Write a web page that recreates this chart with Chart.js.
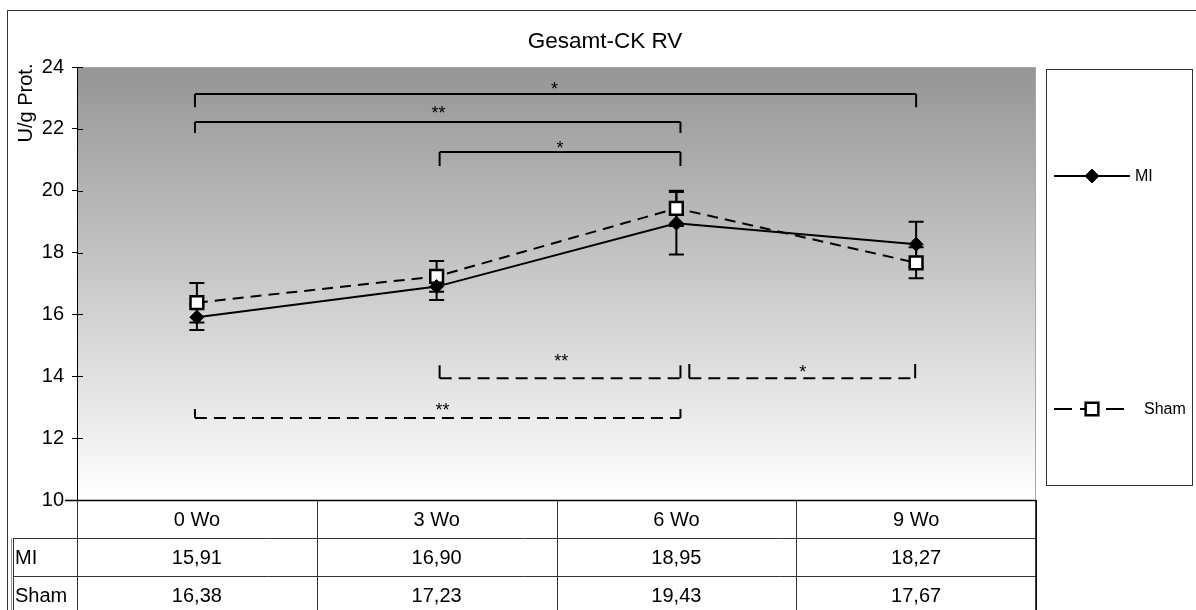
<!DOCTYPE html>
<html><head><meta charset="utf-8">
<script src="https://cdn.jsdelivr.net/npm/chart.js@4.4.1/dist/chart.umd.min.js"></script>
<style>html,body{margin:0;padding:0;background:#fff;overflow:hidden}#wrap{position:relative;width:1196px;height:610px}canvas{display:block}</style>
</head><body><div id="wrap"><canvas id="c" width="1196" height="610"></canvas></div>
<script>
// ---- data ----
const chartTitle = 'Gesamt-CK RV';
const yAxisTitle = 'U/g Prot.';
const categories = ['0 Wo', '3 Wo', '6 Wo', '9 Wo'];
const miValues = [15.91, 16.90, 18.95, 18.27];
const shamValues = [16.38, 17.23, 19.43, 17.67];
const miErrors = [0.41, 0.43, 1.01, 0.73];
const shamErrors = [0.64, 0.50, 0.57, 0.50];
const yTicks = [10, 12, 14, 16, 18, 20, 22, 24];
// significance brackets in category / value units
const sigBrackets = [
  {from: -0.008, to: 3.0,   level: 23.13, tickEnd: 22.70, label: '*',  labelX: 1.492, labelY: 23.42, dashed: false},
  {from: -0.008, to: 2.017, level: 22.22, tickEnd: 21.87, label: '**', labelX: 1.008, labelY: 22.63, dashed: false},
  {from: 1.0125, to: 2.017, level: 21.25, tickEnd: 20.80, label: '*',  labelX: 1.515, labelY: 21.51, dashed: false},
  {from: 1.0125, to: 2.017, level: 13.94, tickEnd: 14.36, label: '**', labelX: 1.520, labelY: 14.62, dashed: true},
  {from: 2.054,  to: 2.996, level: 13.94, tickEnd: 14.40, label: '*',  labelX: 2.527, labelY: 14.26, dashed: true},
  {from: -0.008, to: 2.017, level: 12.65, tickEnd: 12.94, label: '**', labelX: 1.025, labelY: 13.04, dashed: true}
];

const FONT = "'Liberation Sans', Arial, sans-serif";
const fmt = v => v.toFixed(2).replace('.', ',');

const backgroundPlugin = {
  id: 'bg',
  beforeDraw(chart) {
    const {ctx, chartArea: a} = chart;
    ctx.save();
    ctx.fillStyle = '#fff';
    ctx.fillRect(0, 0, chart.width, chart.height);
    // outer border
    ctx.strokeStyle = '#333';
    ctx.lineWidth = 1;
    ctx.strokeRect(7.5, 10.5, 1200, 700);
    // plot gradient
    const g = ctx.createLinearGradient(0, a.top, 0, a.bottom);
    g.addColorStop(0, '#959595');
    g.addColorStop(1, '#ffffff');
    ctx.fillStyle = g;
    ctx.fillRect(a.left, a.top, a.right - a.left, a.bottom - a.top);
    ctx.strokeStyle = '#a8a8a8';
    ctx.strokeRect(a.left + 0.5, a.top + 0.5, a.right - a.left - 1, a.bottom - a.top);
    ctx.restore();
  }
};

const annotationPlugin = {
  id: 'annot',
  beforeDatasetsDraw(chart) {
    const {ctx, scales: {x, y}} = chart;
    ctx.save();
    ctx.strokeStyle = '#000';
    ctx.fillStyle = '#000';
    ctx.lineWidth = 2;
    // brackets
    sigBrackets.forEach(b => {
      const x1 = x.getPixelForValue(b.from), x2 = x.getPixelForValue(b.to);
      const yl = y.getPixelForValue(b.level), yt = y.getPixelForValue(b.tickEnd);
      ctx.setLineDash([]);
      ctx.beginPath();
      ctx.moveTo(x1, yt); ctx.lineTo(x1, yl);
      ctx.moveTo(x2, yt); ctx.lineTo(x2, yl);
      ctx.stroke();
      ctx.setLineDash(b.dashed ? [12, 7] : []);
      ctx.beginPath();
      ctx.moveTo(x1, yl); ctx.lineTo(x2, yl);
      ctx.stroke();
      ctx.setLineDash([]);
      ctx.font = '18px ' + FONT;
      ctx.textAlign = 'center';
      ctx.textBaseline = 'alphabetic';
      ctx.fillText(b.label, x.getPixelForValue(b.labelX), y.getPixelForValue(b.labelY) + 10);
    });
    // error bars
    chart.data.datasets.forEach(ds => {
      ds.errors.forEach((e, i) => {
        const px = x.getPixelForValue(i);
        const t = y.getPixelForValue(ds.data[i] + e), bt = y.getPixelForValue(ds.data[i] - e);
        ctx.beginPath();
        ctx.moveTo(px, t); ctx.lineTo(px, bt);
        ctx.moveTo(px - 7.5, t); ctx.lineTo(px + 7.5, t);
        ctx.moveTo(px - 7.5, bt); ctx.lineTo(px + 7.5, bt);
        ctx.stroke();
      });
    });
    ctx.restore();
  },
  afterDraw(chart) {
    const {ctx, chartArea: a, scales: {x, y}} = chart;
    ctx.save();
    // inner tick marks
    ctx.strokeStyle = '#000';
    ctx.lineWidth = 1;
    y.ticks.forEach(t => {
      const py = Math.round(y.getPixelForValue(t.value)) + 0.5;
      ctx.beginPath(); ctx.moveTo(a.left, py); ctx.lineTo(a.left + 6, py); ctx.stroke();
    });
    // title
    ctx.fillStyle = '#000';
    ctx.font = '22.5px ' + FONT;
    ctx.textAlign = 'center';
    ctx.textBaseline = 'middle';
    ctx.fillText(chartTitle, 605, 42);
    // y axis title
    ctx.save();
    ctx.translate(25, 103);
    ctx.rotate(-Math.PI / 2);
    ctx.font = '20px ' + FONT;
    ctx.fillText(yAxisTitle, 0, 1);
    ctx.restore();

    // data table
    const colW = (a.right - a.left) / categories.length;
    const rowH = 38;
    const top = a.bottom;
    const labelLeft = 13;
    ctx.strokeStyle = '#333';
    ctx.lineWidth = 1;
    ctx.beginPath();
    for (let r = 1; r <= 3; r++) {
      const yy = top + r * rowH + 0.5;
      ctx.moveTo(labelLeft, yy); ctx.lineTo(a.right, yy);
    }
    for (let i = 0; i <= categories.length; i++) {
      const xx = Math.round(a.left + i * colW) + 0.5;
      ctx.moveTo(xx, top); ctx.lineTo(xx, top + 4 * rowH);
    }
    ctx.moveTo(labelLeft + 0.5, top + rowH); ctx.lineTo(labelLeft + 0.5, top + 4 * rowH);
    ctx.stroke();
    ctx.strokeStyle = '#999';
    ctx.beginPath();
    ctx.moveTo(labelLeft - 1.5, top + rowH); ctx.lineTo(labelLeft - 1.5, top + 4 * rowH);
    ctx.stroke();
    ctx.strokeStyle = '#000';
    ctx.lineWidth = 1.5;
    ctx.beginPath();
    ctx.moveTo(a.left - 12, top + 0.5); ctx.lineTo(a.right, top + 0.5);
    ctx.moveTo(a.right, top); ctx.lineTo(a.right, top + 4 * rowH);
    ctx.stroke();

    ctx.font = '20px ' + FONT;
    ctx.fillStyle = '#000';
    ctx.textBaseline = 'middle';
    ctx.textAlign = 'center';
    categories.forEach((c, i) => {
      ctx.fillText(c, x.getPixelForValue(i), top + rowH / 2 + 1);
    });
    chart.data.datasets.forEach((ds, r) => {
      const cy = top + (r + 1) * rowH + rowH / 2 + 1;
      ctx.textAlign = 'left';
      ctx.fillText(ds.label, labelLeft + 2, cy);
      ctx.textAlign = 'center';
      ds.data.forEach((v, i) => ctx.fillText(fmt(v), x.getPixelForValue(i), cy));
    });

    // legend
    ctx.fillStyle = '#fff';
    ctx.fillRect(1047, 70, 145, 415);
    ctx.strokeStyle = '#333';
    ctx.lineWidth = 1;
    ctx.strokeRect(1046.5, 69.5, 146, 416);
    const legendY = [176, 409];
    const textX = [1135, 1144];
    chart.data.datasets.forEach((ds, i) => {
      const ly = legendY[i];
      ctx.strokeStyle = ds.borderColor;
      ctx.lineWidth = ds.borderWidth;
      ctx.setLineDash(ds.borderDash ? [18, 8] : []);
      ctx.beginPath(); ctx.moveTo(1054, ly); ctx.lineTo(ds.borderDash ? 1128 : 1130, ly); ctx.stroke();
      ctx.setLineDash([]);
      ctx.fillStyle = ds.pointBackgroundColor;
      ctx.strokeStyle = ds.pointBorderColor;
      ctx.lineWidth = ds.pointBorderWidth;
      Chart.helpers.drawPoint(ctx, {pointStyle: ds.pointStyle, radius: ds.pointRadius, borderWidth: ds.pointBorderWidth, rotation: 0}, 1092, ly);
      ctx.fillStyle = '#000';
      ctx.font = '16px ' + FONT;
      ctx.textAlign = 'left';
      ctx.textBaseline = 'middle';
      ctx.fillText(ds.label, textX[i], ly + 1);
    });
    ctx.restore();
  }
};

new Chart(document.getElementById('c'), {
  type: 'line',
  data: {
    labels: categories,
    datasets: [
      {label: 'MI', data: miValues, errors: miErrors, borderColor: '#000', borderWidth: 2,
       pointStyle: 'rectRot', pointRadius: 7, pointHoverRadius: 7, pointBackgroundColor: '#000',
       pointBorderColor: '#000', pointBorderWidth: 1, tension: 0, fill: false},
      {label: 'Sham', data: shamValues, errors: shamErrors, borderColor: '#000', borderWidth: 2,
       borderDash: [11, 7], pointStyle: 'rect', pointRadius: 9, pointHoverRadius: 9,
       pointBackgroundColor: '#fff', pointBorderColor: '#000', pointBorderWidth: 2.5, tension: 0, fill: false}
    ]
  },
  options: {
    responsive: false,
    animation: false,
    devicePixelRatio: 1,
    layout: {padding: {left: 0, top: 67, right: 160, bottom: 110}},
    plugins: {legend: {display: false}, title: {display: false}, tooltip: {enabled: false}},
    scales: {
      x: {type: 'category', offset: true, display: false},
      y: {
        min: 10, max: 24,
        afterBuildTicks(s) { s.ticks = yTicks.map(v => ({value: v})); },
        afterFit(s) { s.width = 77; },
        ticks: {color: '#000', font: {family: FONT, size: 20}, padding: 8},
        grid: {drawOnChartArea: false, tickLength: 5, color: '#000', lineWidth: 1},
        border: {color: '#000', width: 1}
      }
    }
  },
  plugins: [backgroundPlugin, annotationPlugin]
});
</script>
</body></html>
